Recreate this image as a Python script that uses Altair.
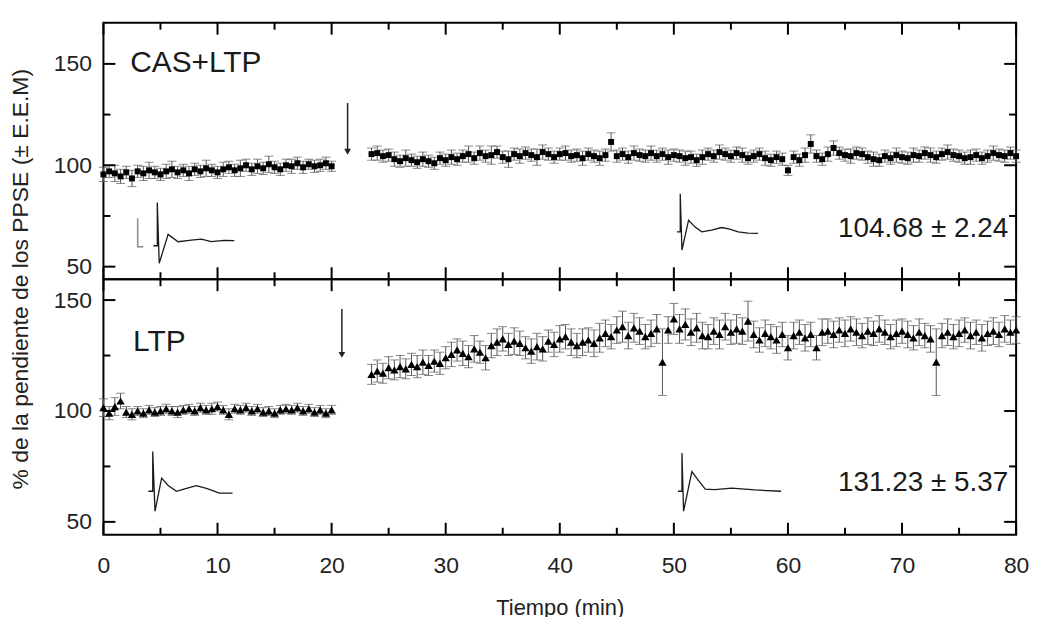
import altair as alt
import pandas as pd

FONT = "Liberation Sans"

# ---------------- data ----------------
base_time = [0, 0.5, 1, 1.5, 2, 2.5, 3, 3.5, 4, 4.5, 5, 5.5, 6, 6.5, 7, 7.5, 8, 8.5, 9, 9.5,
             10, 10.5, 11, 11.5, 12, 12.5, 13, 13.5, 14, 14.5, 15, 15.5, 16, 16.5, 17, 17.5,
             18, 18.5, 19, 19.5, 20]
post_time = [23.5, 24, 24.5, 25, 25.5, 26, 26.5, 27, 27.5, 28, 28.5, 29, 29.5,
             30, 30.5, 31, 31.5, 32, 32.5, 33, 33.5, 34, 34.5, 35, 35.5, 36, 36.5, 37, 37.5, 38, 38.5, 39, 39.5,
             40, 40.5, 41, 41.5, 42, 42.5, 43, 43.5, 44, 44.5, 45, 45.5, 46, 46.5, 47, 47.5, 48, 48.5, 49, 49.5,
             50, 50.5, 51, 51.5, 52, 52.5, 53, 53.5, 54, 54.5, 55, 55.5, 56, 56.5, 57, 57.5, 58, 58.5, 59, 59.5,
             60, 60.5, 61, 61.5, 62, 62.5, 63, 63.5, 64, 64.5, 65, 65.5, 66, 66.5, 67, 67.5, 68, 68.5, 69, 69.5,
             70, 70.5, 71, 71.5, 72, 72.5, 73, 73.5, 74, 74.5, 75, 75.5, 76, 76.5, 77, 77.5, 78, 78.5, 79, 79.5, 80]

# CAS+LTP (top panel)
cas_base = [95.5, 97.0, 96.0, 94.5, 96.5, 93.5, 97.0, 96.0, 97.5, 96.5, 95.5, 97.0, 98.0, 96.5, 97.5, 96.0,
            98.0, 97.0, 98.5, 97.5, 96.5, 98.0, 99.0, 97.5, 98.5, 100.0, 98.0, 99.5, 98.5, 100.5, 99.0, 98.0,
            100.0, 99.5, 101.0, 99.0, 100.5, 99.5, 100.0, 101.0, 99.5]
cas_base_err = [3.5, 3, 4, 3.5, 3, 4, 3, 3.5, 4, 3, 3, 3.5, 4, 3, 3, 3.5, 3, 3, 4, 3, 3, 3.5, 3, 3, 4, 3,
                3, 3.5, 3, 4, 3, 3, 3, 3.5, 3, 3, 2.5, 3, 3, 3, 2.5]
cas_post = [105.5, 106.0, 104.5, 105.0, 103.0, 102.0, 103.5, 102.5, 101.5, 103.0, 102.0, 101.0, 103.5,
            102.5, 104.0, 103.0, 104.5, 105.5, 103.5, 106.0, 104.5, 105.0, 106.5, 104.0, 103.0, 105.5, 104.5,
            106.0, 105.0, 104.0, 106.5, 105.5, 104.0,
            105.5, 106.0, 104.5, 105.0, 103.5, 105.5, 104.5, 103.5, 105.0, 111.5, 104.5, 105.5, 104.0, 106.0,
            105.0, 104.5, 106.0, 104.5, 105.5, 104.0,
            105.0, 104.5, 103.5, 104.0, 102.5, 104.0, 105.5, 104.5, 106.5, 105.5, 104.5, 106.0, 105.0, 103.5,
            104.5, 105.5, 103.5, 102.5, 104.0, 103.0,
            97.5, 104.0, 102.5, 105.0, 110.5, 104.5, 103.0, 105.5, 108.5, 106.0, 105.0, 104.5, 106.0, 105.5,
            104.0, 103.0, 102.5, 104.5, 103.5, 105.0,
            104.0, 103.5, 105.0, 104.5, 106.0, 105.0, 104.0, 105.5, 106.5, 105.0, 104.5, 103.5, 104.0, 105.0,
            103.5, 104.5, 106.0, 105.0, 104.5, 106.0, 104.5]
cas_post_err = [3, 3.5, 3, 3, 3.5, 3, 4, 3, 3, 3.5, 3, 3, 3,
                3, 3.5, 3, 3, 4, 3, 3.5, 3, 4.5, 3, 3, 4, 3, 3.5, 3, 3, 4, 3.5, 3, 3,
                3, 3.5, 3, 3, 3.5, 3, 3, 3.5, 3, 4.5, 3, 3, 3, 3.5, 3, 3, 3.5, 3, 3, 3.5,
                3, 3, 3.5, 3, 3, 3.5, 3, 3, 3.5, 3, 3, 3, 3.5, 3, 3, 3, 3.5, 3, 3, 3,
                2.5, 3, 3, 3.5, 4.5, 3, 3, 3.5, 3.5, 3, 3, 3.5, 3, 3, 3, 3.5, 3, 3, 3, 3.5,
                3, 3, 3.5, 3, 3, 3.5, 3, 3, 3.5, 3, 3, 3, 3.5, 3, 3, 3, 3.5, 3, 3, 3, 3]

# LTP (bottom panel)
ltp_base = [101.5, 99.0, 102.0, 104.5, 99.5, 98.5, 100.0, 99.0, 100.5, 99.5, 100.0, 101.0, 100.0, 99.5,
            100.5, 101.0, 100.0, 101.5, 100.5, 101.0, 102.0, 100.5, 98.5, 101.0, 100.5, 101.5, 100.0, 101.0,
            99.5, 100.0, 99.0, 100.5, 101.0, 100.5, 101.5, 100.0, 101.0, 99.5, 100.5, 99.0, 100.5]
ltp_base_err = [4, 3, 4, 3.5, 2.5, 2.5, 2, 2, 2, 2, 2, 2, 2, 2.5, 2, 2, 2, 2, 2, 2.5, 2, 2, 2.5, 2, 2, 2,
                2, 2, 2, 2, 2, 2, 2, 2, 2, 2, 2, 2, 2, 2, 2]
ltp_post = [116.5, 118.0, 117.0, 119.5, 118.5, 120.0, 119.0, 121.0, 120.0, 122.0, 120.5, 122.5, 121.5,
            124.0, 125.5, 127.5, 126.0, 124.5, 128.0, 126.5, 124.0, 129.5, 131.0, 132.5, 130.0, 131.5, 130.5,
            128.5, 127.0, 129.0, 128.0, 131.5, 130.0,
            132.5, 133.5, 131.0, 129.5, 131.0, 132.0, 130.5, 133.0, 135.0, 133.5, 136.5, 138.0, 134.0, 137.5,
            136.0, 133.5, 135.0, 137.0, 122.0, 136.5,
            141.5, 137.0, 139.0, 135.5, 137.5, 134.0, 133.5, 136.0, 134.5, 138.0, 135.5, 137.0, 136.0, 140.5,
            134.5, 132.0, 135.0, 133.5, 132.0, 134.5,
            128.5, 134.0, 135.5, 133.0, 134.5, 128.5, 135.5, 136.0, 134.5, 136.5, 135.0, 137.0, 135.5, 134.0,
            136.0, 135.0, 137.0, 135.5, 133.5, 135.0,
            136.0, 134.5, 133.0, 135.5, 134.0, 132.5, 122.0, 134.0, 135.5, 133.5, 135.0, 136.5, 134.0, 135.5,
            133.0, 135.0, 136.0, 134.5, 137.0, 135.5, 136.5]
ltp_post_err = [4.5, 5, 4.5, 5, 4.5, 5, 4.5, 5, 5, 5.5, 4.5, 5, 5,
                5, 5.5, 5, 5.5, 5, 6, 5, 5.5, 5.5, 6, 5.5, 5, 6, 5.5, 5, 5.5, 6, 5.5, 5, 5.5,
                6, 5.5, 6, 5.5, 6, 5.5, 6, 6.5, 6, 5.5, 6, 7, 6, 6.5, 6, 5.5, 6, 6.5, 15, 6,
                7, 6.5, 7, 6, 6.5, 6, 5.5, 6, 6.5, 6, 5.5, 6.5, 6, 9, 6, 5.5, 6, 5.5, 6, 5.5,
                5.5, 6, 5.5, 6, 5.5, 5.5, 6, 5.5, 6, 5.5, 6, 5.5, 6, 5.5, 6, 5.5, 6, 5.5, 5.5, 6,
                5.5, 6, 5.5, 6, 5.5, 6, 15, 5.5, 6, 5.5, 6, 5.5, 6, 5.5, 6, 5.5, 6, 5.5, 6, 5.5, 6]

# sample EPSP traces (x in min, y in % units of each panel)
cas_trace1_t = [4.37, 4.72, 4.72, 4.89, 5.67, 6.54, 7.71, 8.58, 9.45, 10.6, 11.47]
cas_trace1_v = [60.3, 60.3, 81.6, 51.7, 65.9, 62.3, 63.1, 63.6, 62.3, 63.0, 62.8]
cas_trace2_t = [50.27, 50.56, 50.56, 50.71, 51.29, 51.87, 52.45, 53.3, 54.18, 54.9, 55.63, 56.5, 57.37]
cas_trace2_v = [67.2, 67.2, 86.0, 58.2, 72.9, 69.5, 67.2, 68.0, 69.3, 68.5, 67.2, 66.5, 66.4]
cas_scalebar_t = [3.0, 3.0, 3.5]
cas_scalebar_v = [73.9, 59.8, 59.8]
ltp_trace1_t = [3.94, 4.32, 4.32, 4.52, 5.1, 5.65, 6.4, 7.2, 8.14, 9.1, 10.16, 11.32]
ltp_trace1_v = [63.8, 63.8, 81.7, 54.8, 69.7, 66.5, 63.8, 65.0, 66.3, 65.0, 63.0, 63.0]
ltp_trace2_t = [50.36, 50.71, 50.71, 50.85, 51.58, 52.1, 52.75, 53.6, 55.05, 57.1, 59.4]
ltp_trace2_v = [63.8, 63.8, 81.0, 54.8, 72.7, 69.0, 64.8, 64.5, 65.2, 64.4, 63.8]

x_major = [0.0, 10.0, 20.0, 30.0, 40.0, 50.0, 60.0, 70.0, 80.0]
x_minor = [5.0, 15.0, 25.0, 35.0, 45.0, 55.0, 65.0, 75.0]
y_major = [50.0, 100.0, 150.0]
y_minor = [75.0, 125.0]

Y_TITLE = "% de la pendiente de los PPSE (± E.E.M)"
X_TITLE = "Tiempo (min)"

W = 918
X_DOMAIN = [0, 80]
ONE = pd.DataFrame({"k": [0]})
MAJOR_PX = 12
MINOR_PX = 7

# symbol paths for inward frame ticks (length = sqrt(size) px)
TICK_UP = "M0,0L0,-2"
TICK_DOWN = "M0,0L0,2"
TICK_RIGHT = "M0,0L2,0"
TICK_LEFT = "M0,0L-2,0"


def series_df(bv, be, pv, pe):
    t = base_time + post_time
    v = bv + pv
    e = be + pe
    return pd.DataFrame({"t": t, "v": v,
                         "lo": [a - b for a, b in zip(v, e)],
                         "hi": [a + b for a, b in zip(v, e)]})


def path_df(ts, vs):
    return pd.DataFrame({"t": ts, "v": vs, "o": list(range(len(ts)))})


def panel(df, ydom, height, shape, size, traces, scalebar, label, label_xy,
          ann, ann_xy, arrow, bottom, ytitle=False):
    xs = alt.Scale(domain=X_DOMAIN, nice=False, zero=False)
    ys = alt.Scale(domain=ydom, nice=False, zero=False)

    def X(f="t", axis=None):
        return alt.X(f"{f}:Q", scale=xs, axis=axis)

    def Y(f="v", axis=None):
        return alt.Y(f"{f}:Q", scale=ys, axis=axis)

    def XD(v):
        return alt.XDatum(v, type="quantitative", scale=xs, axis=None)

    def YD(v):
        return alt.YDatum(v, type="quantitative", scale=ys, axis=None)

    layers = []
    base = alt.Chart(df)
    ecol = "#555555"
    layers.append(base.mark_rule(color=ecol, strokeWidth=1).encode(x=X(), y=Y("lo"), y2="hi:Q"))
    layers.append(base.mark_tick(orient="horizontal", size=9, thickness=1, color=ecol).encode(
        x=X(), y=Y("lo")))
    layers.append(base.mark_tick(orient="horizontal", size=9, thickness=1, color=ecol).encode(
        x=X(), y=Y("hi")))

    if bottom:
        xaxis = alt.Axis(orient="bottom", values=x_major, ticks=False, domain=False, grid=False,
                         labelFlush=False, labelPadding=20, title=X_TITLE, titlePadding=20,
                         format="d")
    else:
        xaxis = None
    yaxis = alt.Axis(orient="left", values=y_major, ticks=False, domain=False, grid=False,
                     labelPadding=12, title=None, format="d")
    layers.append(base.mark_point(shape=shape, filled=True, size=size, color="black",
                                  opacity=1).encode(x=X(axis=xaxis), y=Y(axis=yaxis)))

    # inward frame ticks on all four sides, drawn as stroked line symbols
    for vals, L in ((x_major, MAJOR_PX), (x_minor, MINOR_PX)):
        tdf = pd.DataFrame({"tick_t": vals})
        for edge, path in ((ydom[0], TICK_UP), (ydom[1], TICK_DOWN)):
            layers.append(alt.Chart(tdf).mark_point(
                shape=path, size=L * L, filled=False, stroke="black", strokeWidth=2,
                opacity=1).encode(x=X("tick_t"), y=YD(edge)))
    for vals, L in ((y_major, MAJOR_PX), (y_minor, MINOR_PX)):
        tdf = pd.DataFrame({"tick_v": vals})
        for edge, path in ((X_DOMAIN[0], TICK_RIGHT), (X_DOMAIN[1], TICK_LEFT)):
            layers.append(alt.Chart(tdf).mark_point(
                shape=path, size=L * L, filled=False, stroke="black", strokeWidth=2,
                opacity=1).encode(y=Y("tick_v"), x=XD(edge)))

    for tdf in traces:
        layers.append(alt.Chart(tdf).mark_line(color="#1a1a1a", strokeWidth=1.3).encode(
            x=X(), y=Y(), order="o:Q"))
    if scalebar is not None:
        layers.append(alt.Chart(scalebar).mark_line(color="#8a8a8a", strokeWidth=1.5).encode(
            x=X(), y=Y(), order="o:Q"))

    ax_x, ay0, ay1 = arrow
    layers.append(alt.Chart(ONE).mark_rule(color="#222", strokeWidth=1.5).encode(
        x=XD(ax_x), y=YD(ay0), y2=alt.Y2Datum(ay1 + 2)))
    layers.append(alt.Chart(ONE).mark_point(shape="triangle-down", filled=True, size=45,
                                            color="#222", opacity=1, yOffset=-4).encode(
        x=XD(ax_x), y=YD(ay1)))

    layers.append(alt.Chart(ONE).mark_text(text=label, font=FONT, fontSize=30, align="left",
                                           baseline="middle", color="#1a1a1a").encode(
        x=XD(label_xy[0]), y=YD(label_xy[1])))
    layers.append(alt.Chart(ONE).mark_text(text=ann, font=FONT, fontSize=28, align="right",
                                           baseline="middle", color="#1a1a1a").encode(
        x=XD(ann_xy[0]), y=YD(ann_xy[1])))

    if ytitle:
        layers.append(alt.Chart(ONE).mark_text(text=Y_TITLE, font=FONT, fontSize=23, angle=270,
                                               align="center", baseline="middle",
                                               color="#222").encode(
            x=alt.value(-83), y=alt.value(height)))

    return alt.layer(*layers).resolve_axis(x="independent", y="independent").properties(
        width=W, height=height)


cas_df = series_df(cas_base, cas_base_err, cas_post, cas_post_err)
ltp_df = series_df(ltp_base, ltp_base_err, ltp_post, ltp_post_err)

top = panel(cas_df, [43.8, 170.3], 258, "square", 36,
            [path_df(cas_trace1_t, cas_trace1_v), path_df(cas_trace2_t, cas_trace2_v)],
            path_df(cas_scalebar_t, cas_scalebar_v),
            "CAS+LTP", (2.35, 150.5), "104.68 ± 2.24", (79.3, 68.5),
            (21.4, 130.7, 104.7), False, ytitle=True)

bottom = panel(ltp_df, [44.2, 159.4], 257, "triangle-up", 70,
               [path_df(ltp_trace1_t, ltp_trace1_v), path_df(ltp_trace2_t, ltp_trace2_v)],
               None,
               "LTP", (2.6, 131.2), "131.23 ± 5.37", (79.3, 67.5),
               (20.9, 146.0, 123.5), True)

chart = alt.vconcat(top, bottom, spacing=0, bounds="flush").properties(
    padding={"left": 0, "top": 8, "right": 5, "bottom": 5}
).configure(font=FONT).configure_view(stroke="black", strokeWidth=2).configure_axis(
    labelFont=FONT, labelFontSize=23, labelColor="#222", titleFont=FONT, titleFontSize=22,
    titleFontWeight="normal", titleColor="#222"
)

chart.save("out.html", embed_options={"renderer": "svg", "actions": False})
